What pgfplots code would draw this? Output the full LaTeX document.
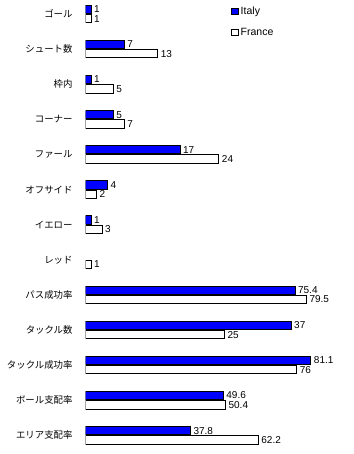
\documentclass[border=0pt]{standalone}
\usepackage{pgfplots}
\pgfplotsset{compat=1.18}
\usepackage{pgfplotstable}
\usepackage{fontspec}
\setmainfont{Liberation Sans}
\newfontfamily\jp{Noto Sans CJK JP}

% counts are drawn at their value; percentages at half their value (as in the original)
\pgfplotstableread{
y x label
0 1 1
1 7 7
2 1 1
3 5 5
4 17 17
5 4 4
6 1 1
8 37.7 75.4
9 37 37
10 40.55 81.1
11 24.8 49.6
12 18.9 37.8
}\italy

\pgfplotstableread{
y x label
0 1 1
1 13 13
2 5 5
3 7 7
4 24 24
5 2 2
6 3 3
7 1 1
8 39.75 79.5
9 25 25
10 38 76
11 25.2 50.4
12 31.1 62.2
}\france

\begin{document}
\begin{tikzpicture}
\begin{axis}[
  at={(85.5bp,0bp)}, anchor=north west,
  scale only axis, width=268.5bp, height=454bp,
  xmin=0, xmax=48.29, ymin=-0.3989, ymax=12.533,
  y dir=reverse, xbar, bar width=8.3bp,
  axis line style={draw=none}, tick style={draw=none},
  xtick=\empty,
  ytick={0,1,2,3,4,5,6,7,8,9,10,11,12},
  yticklabels={ゴール,シュート数,枠内,コーナー,ファール,オフサイド,イエロー,レッド,パス成功率,タックル数,タックル成功率,ボール支配率,エリア支配率},
  yticklabel style={font=\jp\fontsize{9.4bp}{10bp}\selectfont, xshift=-9.5bp},
  major tick length=0pt,
  nodes near coords, point meta=explicit symbolic,
  nodes near coords style={font=\fontsize{10bp}{11bp}\selectfont, anchor=west, inner sep=2.5bp},
  legend style={draw=none, fill=none, at={(0.535,0.994)}, anchor=north west,
    font=\fontsize{10.5bp}{12bp}\selectfont, row sep=8bp, inner sep=2bp},
  legend cell align=left,
]
\addplot[fill=blue, draw=black, line width=1bp, bar shift=4.67bp,
  legend image code/.code={\draw[fill=blue,draw=black,line width=0.8bp] (0bp,-3.3bp) rectangle (6.6bp,3.3bp);}]
  table[x=x, y=y, meta=label] {\italy};
\addlegendentry{Italy}
\addplot[fill=white, draw=black, line width=1bp, bar shift=-4.67bp,
  legend image code/.code={\draw[fill=white,draw=black,line width=0.8bp] (0bp,-3.3bp) rectangle (6.6bp,3.3bp);}]
  table[x=x, y=y, meta=label] {\france};
\addlegendentry{France}
\end{axis}
\pgfresetboundingbox
\path (0,0) rectangle (354bp,-454bp);
\end{tikzpicture}
\end{document}
